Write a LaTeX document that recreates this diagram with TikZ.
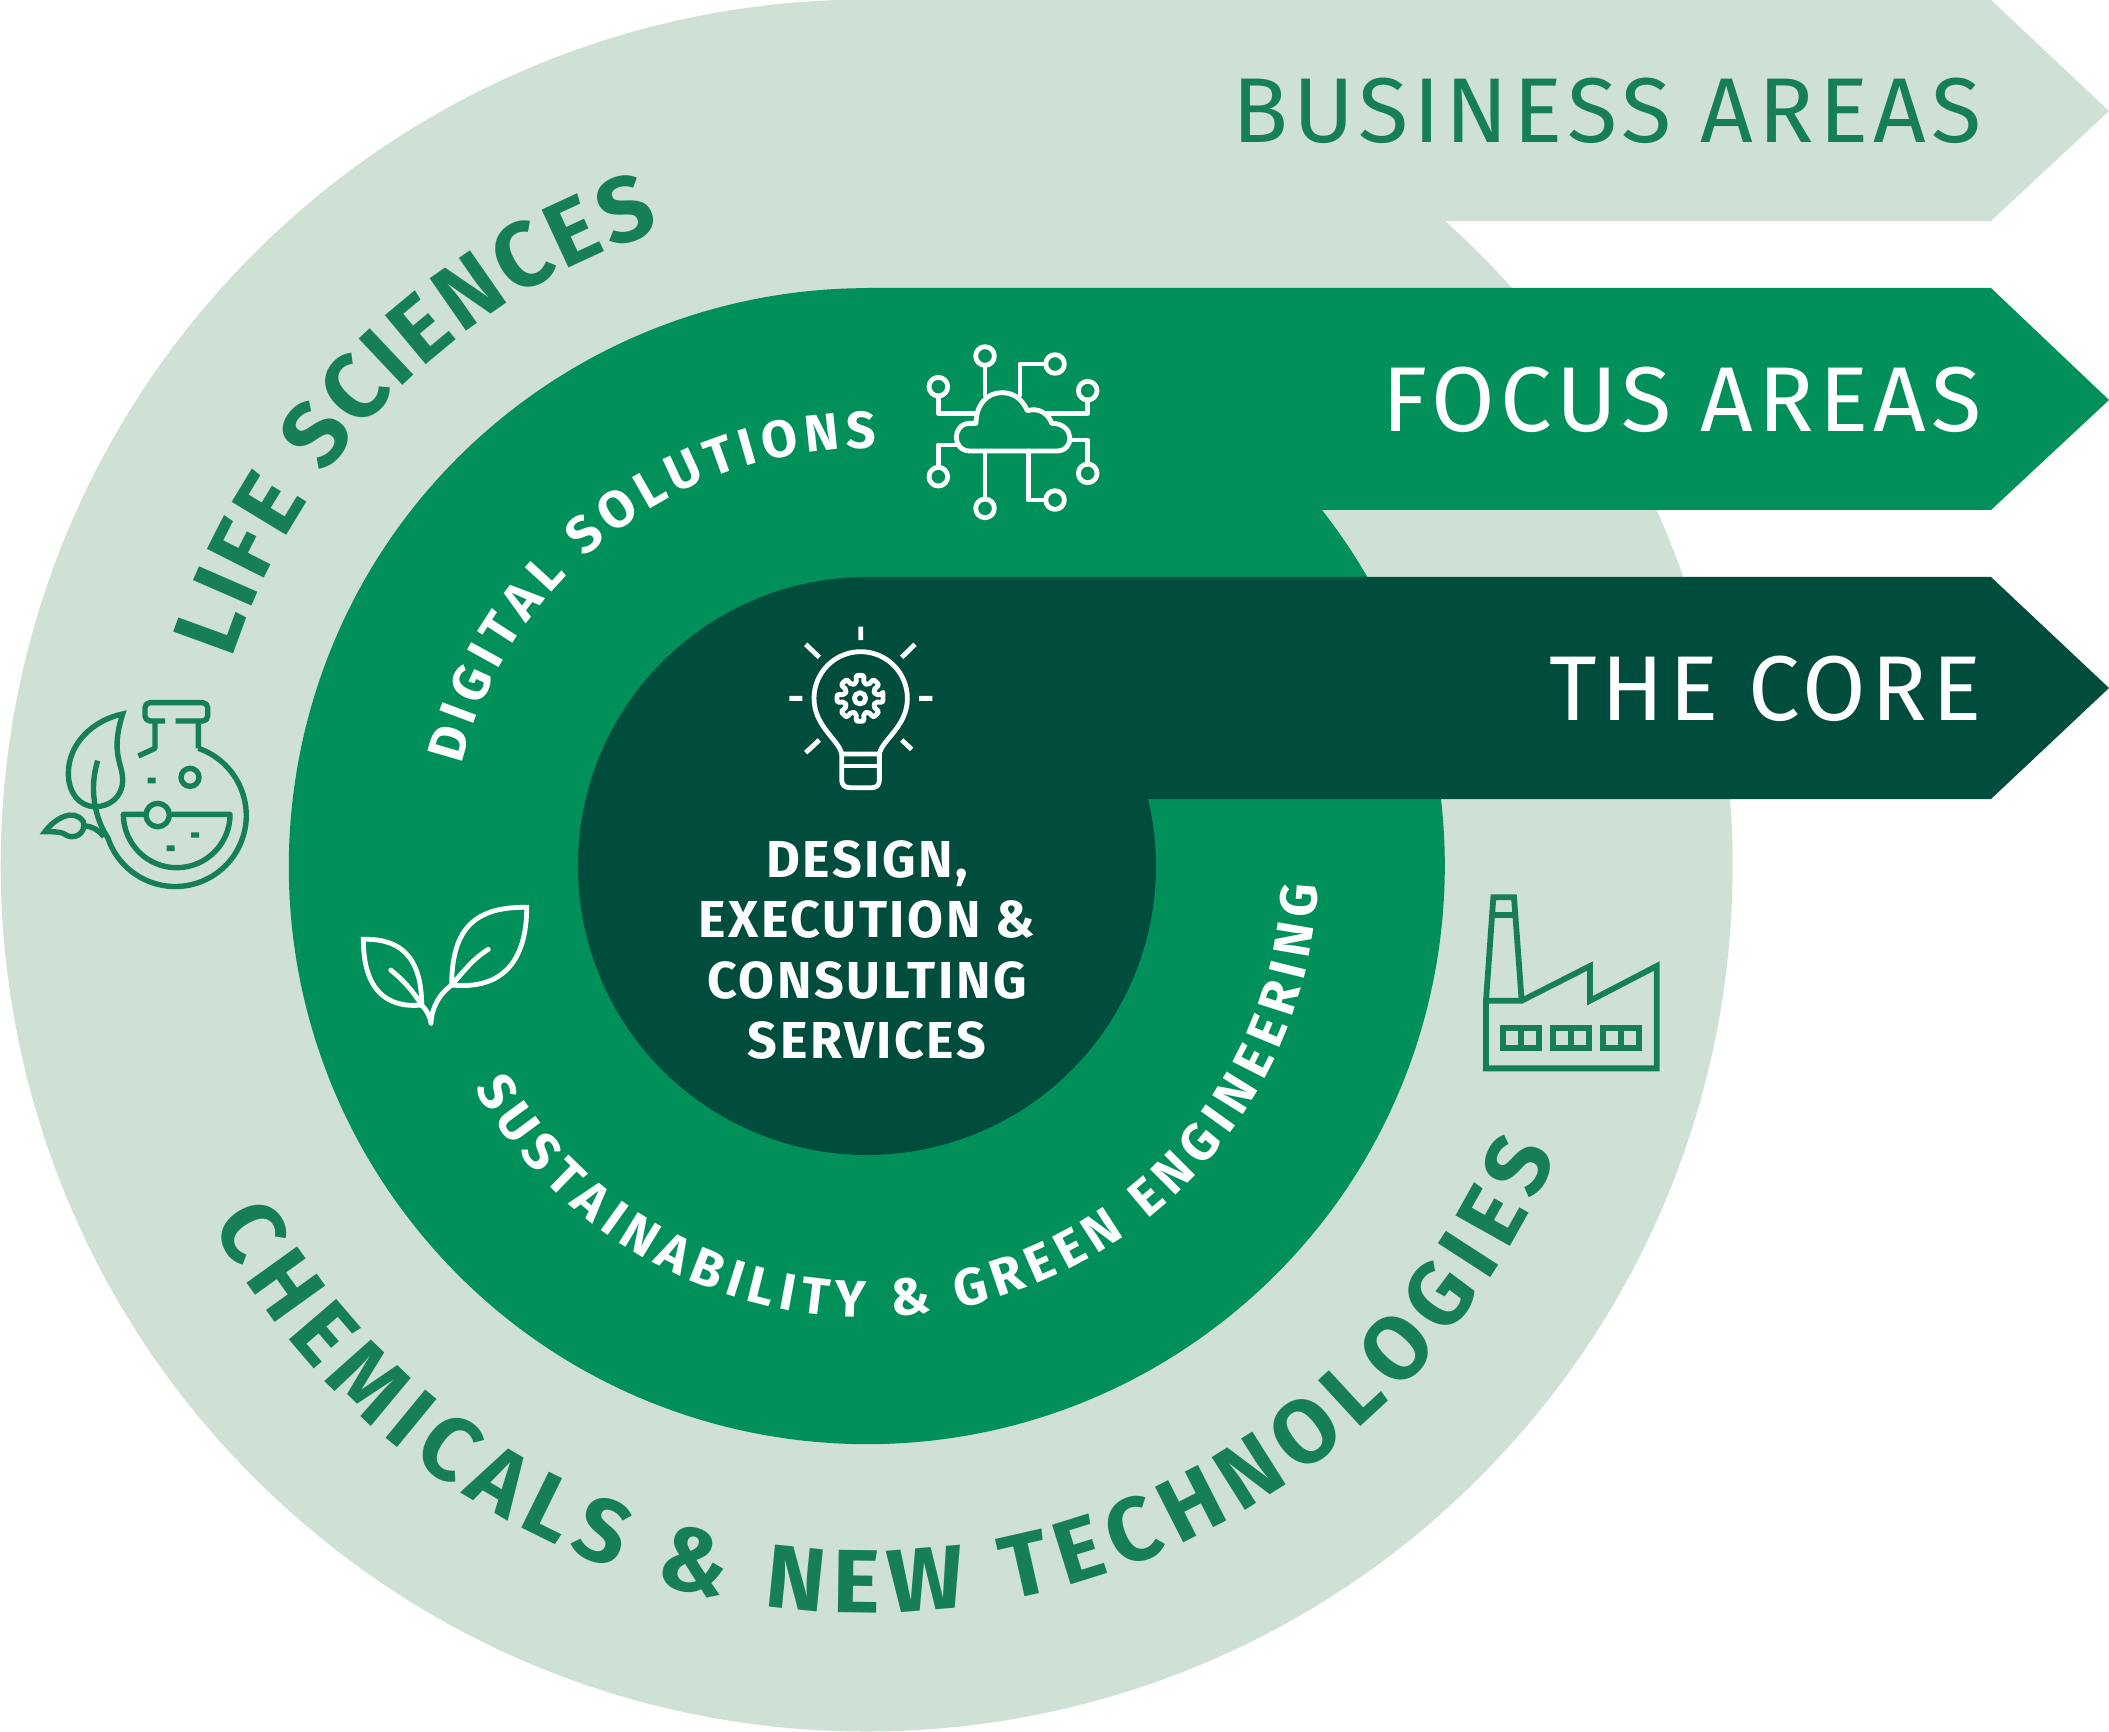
\documentclass[tikz,border=0pt]{standalone}
\usepackage{fontspec}
\setmainfont{Fira Sans}
\newfontfamily\areafont[LetterSpace=5.5]{Fira Sans}
\newfontfamily\corefont[LetterSpace=5]{Fira Sans}
\usetikzlibrary{decorations.text}
\definecolor{paleband}{HTML}{CEE1D4}
\definecolor{midband}{HTML}{02905A}
\definecolor{darkband}{HTML}{004D3E}
\definecolor{leafgreen}{HTML}{167F56}
\begin{document}
\begin{tikzpicture}[x=.5pt,y=-.5pt,
      arealabel/.style={anchor=base east,inner sep=0pt,font=\areafont\fontsize{46}{50}\selectfont},
      icon/.style={draw=#1,line width=2.4pt,fill=none,line cap=round,line join=round}
    ]
    \useasboundingbox (0,0) rectangle (2109,1732);
    \coordinate (C) at (867,866);
    % the three bands
    \fill[paleband] (867,0) -- (1991,0) -- (2109,111) -- (1991,221) -- (1445,221) arc[start angle=-48.1,end angle=270,radius=866] -- cycle;
    \fill[midband] (867,288) -- (1991,288) -- (2109,400) -- (1991,510) -- (1322,510) arc[start angle=-38.04,end angle=270,radius=578] -- cycle;
    \fill[darkband] (867,577) -- (1991,577) -- (2109,688) -- (1991,799) -- (1148,799) arc[start angle=-13.4,end angle=270,radius=289] -- cycle;
    \node[arealabel,text=leafgreen] (business) at (1982,143) {BUSINESS AREAS};
    \node[arealabel,text=white] (focus) at (1982,432) {FOCUS AREAS};
    \node[arealabel,text=white] (core) at (1982,721) {THE CORE};
    \node[align=center,inner sep=0pt,text=white,font=\corefont\bfseries\fontsize{26}{30.25}\selectfont] (services) at (867,950) {DESIGN,\\EXECUTION \&\\CONSULTING\\SERVICES};
    % curved labels
    \path[decorate,decoration={text along path,text align={fit to path},text color=leafgreen,
      text={|\bfseries\fontsize{46}{50}\selectfont|LIFE SCIENCES}}]
      (C) ++(-162:668) arc[start angle=-162,end angle=-108,radius=668];
    \path[decorate,decoration={text along path,text align={fit to path},text color=leafgreen,
      text={|\bfseries\fontsize{45}{50}\selectfont|CHEMICALS {\&} NEW TECHNOLOGIES}}]
      (C) ++(-208.7:747) arc[start angle=-208.7,end angle=-337.3,radius=747];
    \path[decorate,decoration={text along path,text align={fit to path},text color=white,
      text={|\bfseries\fontsize{26}{30}\selectfont|DIGITAL SOLUTIONS}}]
      (C) ++(-166:418) arc[start angle=-166,end angle=-88.7,radius=418];
    \path[decorate,decoration={text along path,text align={fit to path},text color=white,
      text={|\bfseries\fontsize{26}{30}\selectfont|SUSTAINABILITY {\&} GREEN ENGINEERING}}]
      (C) ++(-209.5:451) arc[start angle=-209.5,end angle=-357.6,radius=451];
    % cloud
    \begin{scope}[shift={(900,320)},x=.1667pt,y=-.1667pt]
      \foreach \p in {(255,108),(465,132),(115,200),(563,212),(115,470),(255,565),(465,540),(563,460)}
        \draw[icon=white] \p circle (28);
      \draw[icon=white] (255,136) -- (255,225) (437,132) -- (360,132) -- (360,225)
        (115,228) -- (115,280) -- (225,280) (563,240) -- (563,280) -- (435,280)
        (115,442) -- (115,375) -- (175,375) (255,537) -- (255,393)
        (437,540) -- (385,540) -- (385,393) (563,432) -- (563,360) -- (510,360);
      \draw[icon=white] (210,393) -- (470,393) .. controls (525,393) and (525,310) .. (455,310)
        .. controls (445,280) and (415,262) .. (382,272) .. controls (365,235) and (340,218) .. (305,218)
        .. controls (260,218) and (228,255) .. (228,310) -- (210,310)
        .. controls (155,310) and (155,393) .. (210,393) -- cycle;
    \end{scope}
    % bulb
    \begin{scope}[shift={(770,610)},x=.1667pt,y=-.1667pt]
      \draw[icon=white,line cap=butt] (272,50) -- (272,90) (107,103) -- (148,142) (435,103) -- (395,142)
        (58,265) -- (97,265) (447,265) -- (487,265) (107,428) -- (148,390) (395,390) -- (425,418);
      \draw[icon=white] (215,432) .. controls (208,390) and (132,350) .. (132,265)
        arc[start angle=-180,end angle=0,radius=140]
        .. controls (412,350) and (335,390) .. (328,432) -- cycle;
      \draw[icon=white] (222,468) -- (322,468);
      \draw[icon=white] (215,432) -- (215,510) .. controls (215,525) and (225,533) .. (240,533) -- (305,533)
        .. controls (320,533) and (328,525) .. (328,510) -- (328,432);
      \begin{scope}[shift={(270,265)}]
        \draw[icon=white] (0,0) circle (17);
        \draw[icon=white,rounded corners=1pt] (-10:70)
          \foreach \a in {0,45,...,315}{ -- (\a-10:70) -- (\a+10:70) -- (\a+13:47) -- (\a+32:47) } -- cycle;
      \end{scope}
    \end{scope}
    % flask
    \begin{scope}[shift={(30,690)},x=.1667pt,y=-.1667pt]
      \tikzset{flask/.style={draw=leafgreen,line width=2.7pt,line join=round}}
      \draw[flask,rounded corners=2.5pt] (405,93) -- (345,93) -- (345,38) -- (533,38) -- (533,93) -- (437,93);
      \draw[flask] (375,95) -- (375,175) -- (325,198);
      \draw[flask] (505,175) -- (505,95) (505,175) arc[start angle=-71,end angle=162,radius=213]
        .. controls (210,410) and (170,320) .. (203,212);
      \draw[flask] (345,373) -- (280,373) arc[start angle=-180,end angle=-360,radius=160] -- (425,373);
      \draw[flask] (383,375) circle (35) (480,262) circle (27);
      \fill[leafgreen] (353,263) rectangle (377,280) (483,427) rectangle (507,443) (410,466) rectangle (434,483);
      \draw[flask,line join=miter] (278,72) .. controls (190,90) and (115,160) .. (115,250)
        .. controls (115,310) and (150,350) .. (195,350) .. controls (240,350) and (278,320) .. (278,270)
        .. controls (278,220) and (240,190) .. (278,72) -- cycle;
      \draw[flask,line join=miter] (45,425) .. controls (70,390) and (130,350) .. (160,395)
        .. controls (170,430) and (130,455) .. (100,430) .. controls (85,425) and (70,425) .. (45,425) -- cycle;
      \draw[flask] (165,408) .. controls (190,410) and (205,420) .. (222,440);
    \end{scope}
    % sprout
    \begin{scope}[shift={(350,890)},x=.1667pt,y=-.1667pt]
      \draw[icon=white,line join=miter] (40,148) .. controls (140,145) and (215,190) .. (215,345)
        .. controls (110,355) and (40,300) .. (40,148) -- cycle;
      \draw[icon=white,line join=miter] (530,52) .. controls (380,50) and (305,110) .. (305,285)
        .. controls (460,300) and (530,210) .. (530,52) -- cycle;
      \draw[icon=white] (122,240) .. controls (160,270) and (190,305) .. (215,345) .. controls (230,360) and (240,380) .. (243,400)
        .. controls (245,350) and (270,310) .. (305,285) .. controls (340,245) and (370,205) .. (415,178);
    \end{scope}
    % factory
    \begin{scope}[shift={(1470,880)},x=.1667pt,y=-.1667pt]
      \tikzset{plant/.style={draw=leafgreen,line width=2.9pt,line join=miter}}
      \draw[plant] (48,362) -- (155,362) -- (360,258) -- (360,362) -- (560,258) -- (560,565) -- (48,565) -- cycle;
      \draw[plant] (48,362) -- (70,52) -- (132,52) -- (155,362) (65,105) -- (135,105);
      \foreach \x in {100,250,400}{
        \draw[plant] (\x,445) rectangle ++(107,60) (\x+54,445) -- ++(0,60);
      }
    \end{scope}
  \end{tikzpicture}
\end{document}
